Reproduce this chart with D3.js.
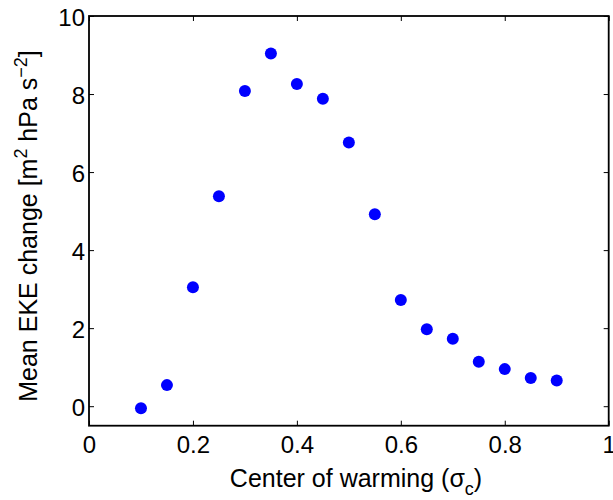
<!DOCTYPE html>
<html><head><meta charset="utf-8">
<script src="https://cdn.jsdelivr.net/npm/d3@7"></script>
<style>body{margin:0;background:#fff}svg{display:block}text{font-family:"Liberation Sans",Arial,sans-serif;fill:#000}</style>
</head><body>
<script>
const centers = [0.1,0.15,0.2,0.25,0.3,0.35,0.4,0.45,0.5,0.55,0.6,0.65,0.7,0.75,0.8,0.85,0.9];
const ekeChange = [-0.05,0.54,3.05,5.38,8.08,9.04,8.26,7.88,6.76,4.92,2.72,1.97,1.73,1.14,0.95,0.72,0.66];
const xTicks = [0,0.2,0.4,0.6,0.8,1];
const yTicks = [0,2,4,6,8,10];

(function(){
const W=613,H=500;
const mL=89,mR=608.7,mT=16,mB=425.7;
const svg=d3.select("body").append("svg").attr("width",W).attr("height",H);
const x=d3.scaleLinear().domain([0,1]).range([mL,mR]);
const y=d3.scaleLinear().domain([-0.5,10]).range([mB,mT]);
const fmt=d=>String(d);

const tl=5;
const gb=svg.append("g").attr("transform",`translate(0,${mB})`)
  .call(d3.axisBottom(x).tickValues(xTicks).tickFormat(fmt).tickSizeInner(-tl).tickSizeOuter(0).tickPadding(10));
const gt=svg.append("g").attr("transform",`translate(0,${mT})`)
  .call(d3.axisTop(x).tickValues(xTicks).tickFormat("").tickSizeInner(-tl).tickSizeOuter(0));
const gl=svg.append("g").attr("transform",`translate(${mL},0)`)
  .call(d3.axisLeft(y).tickValues(yTicks).tickFormat(fmt).tickSizeInner(-tl).tickSizeOuter(0).tickPadding(4));
const gr=svg.append("g").attr("transform",`translate(${mR},0)`)
  .call(d3.axisRight(y).tickValues(yTicks).tickFormat("").tickSizeInner(-tl).tickSizeOuter(0));
[gb,gt,gl,gr].forEach(g=>{
  g.select(".domain").remove();
  g.selectAll(".tick line").attr("stroke","#000").attr("stroke-width",1);
  g.selectAll(".tick text").attr("font-size",24).attr("font-family","Liberation Sans, Arial, sans-serif");
});
gl.selectAll(".tick text").attr("dy","0.4em");
svg.append("rect").attr("x",mL).attr("y",mT).attr("width",mR-mL).attr("height",mB-mT)
  .attr("fill","none").attr("stroke","#000").attr("stroke-width",1.8);

svg.append("g").selectAll("circle").data(centers).join("circle")
  .attr("cx",(d)=>x(d)).attr("cy",(d,i)=>y(ekeChange[i])).attr("r",6).attr("fill","#0000ff");

const xl=svg.append("text").attr("x",356).attr("y",487).attr("text-anchor","middle").attr("font-size",25);
xl.append("tspan").text("Center of warming (σ");
xl.append("tspan").attr("font-size",18).attr("dy",8).text("c");
xl.append("tspan").attr("dy",-8).text(")");
const yl=svg.append("text").attr("transform",`translate(37,226) rotate(-90)`).attr("text-anchor","middle").attr("font-size",25);
yl.append("tspan").text("Mean EKE change [m");
yl.append("tspan").attr("font-size",18).attr("dy",-10).text("2");
yl.append("tspan").attr("dy",10).text(" hPa s");
yl.append("tspan").attr("font-size",18).attr("dy",-10).text("−2");
yl.append("tspan").attr("dy",10).text("]");
})();
</script>
</body></html>
